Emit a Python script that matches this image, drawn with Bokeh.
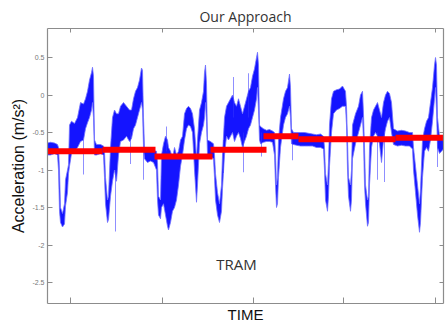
from bokeh.plotting import figure
from bokeh.models import Range1d, FixedTicker, LinearAxis, Label, Title, ColumnDataSource
from bokeh.embed import file_html
from bokeh.resources import INLINE

# ---- data (time in samples, acceleration in m/s^2) ----
t = [0, 3, 7, 10, 11, 12, 13, 15, 17, 18, 20, 21, 22, 24, 27, 30, 33, 36, 38, 40, 42, 44, 45, 46,
     47, 49, 53, 56, 57, 58, 60, 61, 63, 65, 67, 69, 71, 73, 76, 79, 82, 84, 86, 88, 90, 92, 94, 95,
     96, 97, 100, 103, 106, 109, 110, 111, 113, 114, 116, 118, 120, 121, 123, 125, 127, 129, 131, 133,
     135, 137, 139, 141, 143, 145, 147, 149, 150, 152, 154, 156, 157, 158, 159, 160, 163, 166, 167,
     168, 170, 172, 174, 175, 177, 179, 181, 183, 185, 187, 189, 191, 193, 195, 197, 199, 201, 203,
     205, 207, 209, 210, 211, 212, 213, 216, 219, 222, 225, 227, 228, 229, 230, 231, 233, 236, 238,
     240, 242, 243, 244, 246, 249, 253, 257, 261, 265, 269, 273, 276, 277, 278, 280, 281, 282, 284,
     286, 289, 292, 295, 298, 299, 300, 301, 303, 304, 305, 308, 311, 313, 315, 316, 317, 318, 320,
     321, 322, 324, 326, 328, 330, 332, 334, 336, 338, 340, 342, 344, 346, 350, 354, 358, 362, 365,
     366, 368, 370, 372, 373, 375, 377, 379, 381, 383, 385, 387, 388, 389, 390, 392, 394, 396]
lo = [-0.80, -0.80, -0.78, -0.80, -1.00, -1.55, -1.70, -1.76, -1.72, -1.48, -1.30, -1.05, -0.95,
      -0.78, -0.75, -0.70, -0.62, -0.60, -0.45, -0.37, -0.30, -0.20, -0.10, -0.30,
      -0.80, -0.80, -0.78, -0.80, -1.10, -1.45, -1.70, -1.66, -1.35, -1.15, -1.00, -1.15, -0.80,
      -0.62, -0.60, -0.55, -0.62, -0.58, -0.45, -0.40, -0.30, -0.20, -0.10, -0.20,
      -0.70, -0.85, -0.90, -0.88, -0.90, -1.00, -1.40, -1.60, -1.65, -1.50, -1.45, -1.60, -1.75,
      -1.80, -1.70, -1.55, -1.50, -1.40, -1.20, -0.95,
      -0.80, -0.60, -0.45, -0.40, -0.42, -0.50, -1.00, -1.43, -1.20, -0.65, -0.50, -0.40, -0.30,
      -0.10, -0.35, -0.80, -0.82, -0.85, -1.10,
      -1.40, -1.60, -1.70, -1.55, -1.25, -0.80, -0.55, -0.60, -0.55, -0.50, -0.62, -0.55, -0.50,
      -0.58, -0.70, -0.62, -0.55, -0.45, -0.40,
      -0.30, -0.20, -0.05, 0.10, -0.20, -0.60, -0.65, -0.63, -0.62, -0.62, -0.63, -0.80, -1.20,
      -1.50, -1.45, -1.10, -0.70, -0.40, -0.30,
      -0.25, -0.15, -0.30, -0.65, -0.66, -0.67, -0.68, -0.68, -0.68, -0.68, -0.70, -0.70, -0.72,
      -1.00, -1.40, -1.55, -1.35, -0.95, -0.50,
      -0.25, -0.20, -0.18, -0.15, -0.15, -0.40, -1.00, -1.35, -1.55, -1.40, -0.85, -0.65, -0.50,
      -0.40, -0.30, -0.60, -1.20, -1.45, -1.75,
      -1.70, -1.20, -0.70, -0.55, -0.50, -0.55, -0.65, -0.90, -0.60, -0.45, -0.35, -0.30, -0.50,
      -0.66, -0.68, -0.67, -0.68, -0.68, -0.72,
      -1.00, -1.30, -1.60, -1.83, -1.70, -1.10, -0.75, -0.70, -0.75, -0.60, -0.35, -0.05, 0.10,
      -0.20, -0.70, -0.78, -0.75, -0.72]
hi = [-0.64, -0.63, -0.64, -0.66, -0.70, -1.00, -1.50, -1.58, -1.45, -1.13, -1.00, -0.93, -0.40,
      -0.35, -0.38, -0.30, -0.10, -0.12, -0.05, 0.05, 0.20, 0.30, 0.37, 0.25,
      -0.60, -0.66, -0.66, -0.68, -0.75, -1.10, -1.40, -1.35, -0.70, -0.30, -0.20, -0.25, -0.25,
      -0.15, -0.10, -0.15, -0.20, -0.20, -0.05, 0.05, 0.10, 0.20, 0.36, 0.33,
      -0.30, -0.70, -0.72, -0.72, -0.74, -0.75, -0.90, -1.35, -1.40, -0.80, -0.65, -0.55, -0.60,
      -0.70, -0.75, -0.85, -0.70, -0.80, -0.75, -0.60,
      -0.55, -0.25, -0.18, -0.15, -0.18, -0.25, -0.45, -0.85, -0.60, -0.20, -0.10, 0.05, 0.30,
      0.40, 0.15, -0.60, -0.62, -0.65, -0.80,
      -1.05, -1.30, -1.45, -1.20, -0.80, -0.30, -0.15, -0.10, -0.05, 0.00, -0.10, -0.15, -0.05,
      -0.15, -0.25, -0.15, -0.05, 0.05, 0.10,
      0.25, 0.35, 0.50, 0.57, 0.40, -0.40, -0.42, -0.45, -0.47, -0.46, -0.48, -0.50, -0.80,
      -1.20, -1.10, -0.60, -0.30, -0.05, 0.05,
      0.10, 0.28, 0.10, -0.45, -0.50, -0.50, -0.50, -0.50, -0.51, -0.52, -0.53, -0.52, -0.55,
      -0.70, -1.05, -1.20, -0.90, -0.40, -0.05,
      0.05, 0.07, 0.08, 0.12, 0.05, -0.15, -0.60, -1.10, -1.20, -1.00, -0.40, -0.25, -0.15,
      0.00, 0.05, -0.25, -0.70, -1.20, -1.40,
      -1.35, -0.70, -0.30, -0.20, -0.15, -0.10, -0.20, -0.30, -0.10, 0.00, 0.05, 0.02, -0.10,
      -0.45, -0.48, -0.47, -0.48, -0.50, -0.50,
      -0.70, -0.95, -1.20, -1.45, -1.25, -0.60, -0.45, -0.35, -0.30, -0.10, 0.10, 0.40, 0.50,
      0.40, -0.30, -0.55, -0.56, -0.55]

# thin isolated spikes of the signal
spike_t = [36, 68, 83, 96, 119, 176, 186, 196, 201, 214, 245, 330, 337, 390]
spike_lo = [-1.06, -1.82, -0.92, -1.13, -0.75, -1.04, -0.30, -1.03, -0.30, -0.82, -0.87, -1.13, -1.16, -0.96]
spike_hi = [-0.60, -1.00, -0.50, -0.70, -0.42, -0.60, 0.24, -0.50, 0.29, -0.50, -0.50, -0.50, -0.50, -0.60]

# segment means found by the approach (red)
seg_start = [0, 55, 107, 163, 216, 251, 348]
seg_end = [55, 108, 165, 219, 251, 348, 396]
seg_val = [-0.75, -0.73, -0.82, -0.73, -0.55, -0.59, -0.57]

y_ticks = [-2.5, -2.0, -1.5, -1.0, -0.5, 0.0, 0.5]
y_tick_labels = ["-2.5", "-2", "-1.5", "-1", "-0.5", "0", "0.5"]
x_ticks = [23, 115, 206, 296, 388]

title_text = "Our Approach"
x_label = "TIME"
y_label = "Acceleration (m/s\u00b2)"
note_text = "TRAM"

# ---- figure ----
AX = "#8c8c8c"
p = figure(width=445, height=324, output_backend="svg", toolbar_location=None,
           x_range=Range1d(0, 396), y_range=Range1d(-2.78, 0.887),
           min_border_left=47, min_border_right=2, min_border_top=28, min_border_bottom=21)
p.outline_line_color = None
p.background_fill_color = "white"
p.border_fill_color = "white"
p.grid.visible = False

p.title.text = title_text
p.title.align = "center"
p.title.text_font = "Open Sans"
p.title.text_font_size = "14px"
p.title.text_font_style = "normal"
p.title.text_color = "#333333"
p.title.standoff = 6
p.title.offset = -7

# blue signal band
src = ColumnDataSource(dict(t=t, lo=lo, hi=hi))
p.varea(x="t", y1="lo", y2="hi", source=src, fill_color="#0000ff", fill_alpha=0.92)
p.line(x="t", y="lo", source=src, line_color="#6f6fff", line_width=1, line_alpha=0.8)
p.line(x="t", y="hi", source=src, line_color="#6f6fff", line_width=1, line_alpha=0.8)
p.segment(x0=spike_t, y0=spike_lo, x1=spike_t, y1=spike_hi, line_color="#3333ff",
          line_width=1, line_alpha=0.55)

# red segments
p.segment(x0=seg_start, y0=seg_val, x1=seg_end, y1=seg_val, line_color="#ff0000",
          line_width=6, line_cap="butt")

# axes
xa = p.xaxis[0]
xa.ticker = FixedTicker(ticks=x_ticks)
xa.major_label_overrides = {v: "" for v in x_ticks}
xa.major_label_text_font_size = "1px"
xa.major_label_standoff = 0
xa.major_tick_in = 6
xa.major_tick_out = 0
xa.minor_tick_line_color = None
xa.axis_line_color = AX
xa.major_tick_line_color = AX
xa.axis_line_width = 1.2

p.add_layout(Title(text=x_label, align="center", offset=-9, text_font="Liberation Sans",
                   text_font_size="15px", text_font_style="normal", text_color="#111111",
                   standoff=1), "below")

ya = p.yaxis[0]
ya.ticker = FixedTicker(ticks=y_ticks)
ya.major_label_overrides = {v: s for v, s in zip(y_ticks, y_tick_labels)}
ya.major_label_text_font_size = "7px"
ya.major_label_text_font = "Liberation Sans"
ya.major_label_text_color = "#777777"
ya.major_label_standoff = 3
ya.major_tick_in = 5
ya.major_tick_out = 0
ya.minor_tick_line_color = None
ya.axis_line_color = AX
ya.major_tick_line_color = AX
ya.axis_line_width = 1.2
ya.axis_label = y_label
ya.axis_label_text_font = "Liberation Sans"
ya.axis_label_text_font_style = "normal"
ya.axis_label_text_font_size = "16px"
ya.axis_label_text_color = "#111111"
ya.axis_label_standoff = 2

top = LinearAxis(ticker=FixedTicker(ticks=x_ticks), major_label_overrides={v: "" for v in x_ticks},
                 major_label_text_font_size="1px", major_label_standoff=0,
                 major_tick_in=4, major_tick_out=0, minor_tick_line_color=None,
                 axis_line_color=AX, major_tick_line_color=AX, axis_line_width=1.2)
p.add_layout(top, "above")
right = LinearAxis(ticker=FixedTicker(ticks=y_ticks), major_label_overrides={v: "" for v in y_ticks},
                   major_label_text_font_size="1px", major_label_standoff=0,
                   major_tick_in=4, major_tick_out=0, minor_tick_line_color=None,
                   axis_line_color=AX, major_tick_line_color=AX, axis_line_width=1.2)
p.add_layout(right, "right")

# in-plot note
p.add_layout(Label(x=189, y=-2.25, text=note_text, text_align="center", text_baseline="middle",
                   text_font="Open Sans", text_font_size="15px", text_color="#333333"))

open("out.html", "w").write(file_html(p, INLINE))
